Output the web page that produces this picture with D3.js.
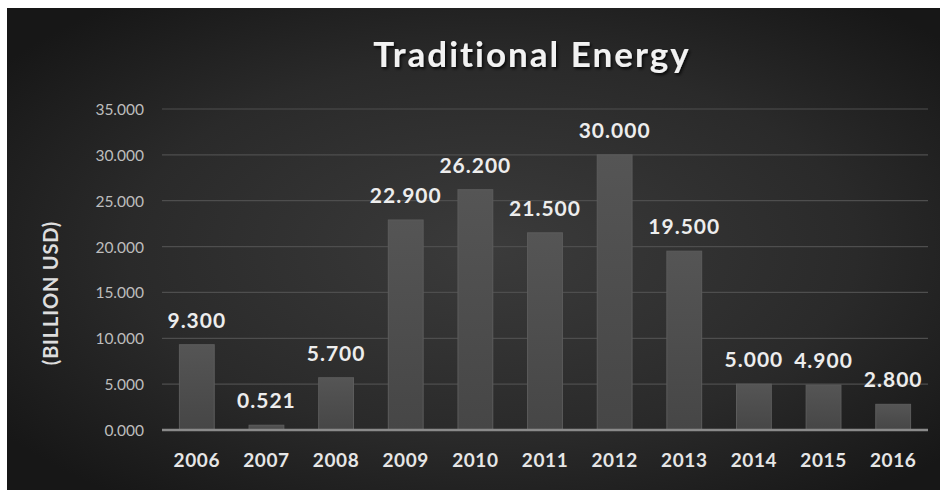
<!DOCTYPE html>
<html>
<head>
<meta charset="utf-8">
<script src="https://cdn.jsdelivr.net/npm/d3@7"></script>
<style>
  html, body { margin: 0; padding: 0; background: #ffffff; }
  svg { display: block; }
  text { font-variant-ligatures: none; }
</style>
</head>
<body>
<script>
// Annual investment in traditional energy, billion USD
const years = ["2006", "2007", "2008", "2009", "2010", "2011", "2012", "2013", "2014", "2015", "2016"];
const values = [9.3, 0.521, 5.7, 22.9, 26.2, 21.5, 30.0, 19.5, 5.0, 4.9, 2.8];
const yTicks = [0, 5, 10, 15, 20, 25, 30, 35];
const titleText = "Traditional Energy";
const yAxisTitle = "(BILLION USD)";

const W = 940, H = 490;
const svg = d3.select("body").append("svg").attr("width", W).attr("height", H);
const defs = svg.append("defs");

// Dark panel with soft central glow
const bg = defs.append("radialGradient").attr("id", "bgGrad")
  .attr("cx", "52%").attr("cy", "50%").attr("r", "65%");
bg.append("stop").attr("offset", "0%").attr("stop-color", "#3b3b3b");
bg.append("stop").attr("offset", "60%").attr("stop-color", "#2a2a2a");
bg.append("stop").attr("offset", "100%").attr("stop-color", "#171717");

const barGrad = defs.append("linearGradient").attr("id", "barGrad")
  .attr("x1", 0).attr("y1", 0).attr("x2", 0).attr("y2", 1);
barGrad.append("stop").attr("offset", "0%").attr("stop-color", "#555555");
barGrad.append("stop").attr("offset", "100%").attr("stop-color", "#464646");

const shadow = defs.append("filter").attr("id", "txtShadow")
  .attr("x", "-10%").attr("y", "-20%").attr("width", "130%").attr("height", "150%");
shadow.append("feDropShadow").attr("dx", 1.5).attr("dy", 2).attr("stdDeviation", 1.5)
  .attr("flood-color", "#000").attr("flood-opacity", 0.8);

svg.append("rect").attr("x", 7).attr("y", 8).attr("width", W - 7).attr("height", H - 8)
  .attr("fill", "url(#bgGrad)");

const x = d3.scaleBand().domain(years).range([162, 928]).paddingInner(0.5).paddingOuter(0.25);
const y = d3.scaleLinear().domain([0, 35]).range([430, 109]);

const font = "Lato, 'Open Sans', sans-serif";

// Horizontal gridlines
svg.append("g").selectAll("line").data(yTicks.filter(t => t > 0)).join("line")
  .attr("x1", 162).attr("x2", 928)
  .attr("y1", d => y(d)).attr("y2", d => y(d))
  .attr("stroke", "#4e4e4e").attr("stroke-width", 1.2);

// Y axis tick labels
const yAxis = d3.axisLeft(y).tickValues(yTicks).tickFormat(d3.format(".3f")).tickSize(0).tickPadding(0);
const gy = svg.append("g").attr("transform", "translate(144,0)").call(yAxis);
gy.select(".domain").remove();
gy.selectAll("text").attr("fill", "#bdbdbd").attr("font-family", font)
  .attr("font-size", 15.5).attr("dy", "0.35em");

// Bars
svg.append("g").selectAll("rect").data(values).join("rect")
  .attr("x", (d, i) => x(years[i]))
  .attr("y", d => y(d))
  .attr("width", x.bandwidth())
  .attr("height", d => y(0) - y(d))
  .attr("fill", "url(#barGrad)")
  .attr("stroke", "#5c5c5c").attr("stroke-width", 1);

// Baseline
svg.append("line").attr("x1", 162).attr("x2", 928).attr("y1", y(0)).attr("y2", y(0))
  .attr("stroke", "#8a8a8a").attr("stroke-width", 2.5);

// X axis labels
const xAxis = d3.axisBottom(x).tickSize(0).tickPadding(0);
const gx = svg.append("g").attr("transform", `translate(0,${y(0)})`).call(xAxis);
gx.select(".domain").remove();
gx.selectAll("text").attr("fill", "#e6e6e6").attr("font-family", font)
  .attr("font-weight", "bold").attr("font-size", 19).attr("letter-spacing", 0.6)
  .attr("dy", "37");

// Value labels
svg.append("g").selectAll("text").data(values).join("text")
  .attr("x", (d, i) => x(years[i]) + x.bandwidth() / 2)
  .attr("y", d => y(d) - 17)
  .attr("text-anchor", "middle")
  .attr("fill", "#ededed").attr("font-family", font)
  .attr("font-weight", "bold").attr("font-size", 21).attr("letter-spacing", 1)
  .text(d => d3.format(".3f")(d));

// Title
svg.append("text").attr("x", 532).attr("y", 67).attr("text-anchor", "middle")
  .attr("fill", "#f2f2f2").attr("font-family", font).attr("font-weight", "bold")
  .attr("font-size", 35).attr("letter-spacing", 2).attr("filter", "url(#txtShadow)")
  .text(titleText);

// Y axis title
svg.append("text").attr("transform", "translate(58,293) rotate(-90)")
  .attr("text-anchor", "middle").attr("fill", "#dddddd").attr("font-family", font)
  .attr("font-weight", "bold").attr("font-size", 20).attr("letter-spacing", 0.8)
  .text(yAxisTitle);
</script>
</body>
</html>
